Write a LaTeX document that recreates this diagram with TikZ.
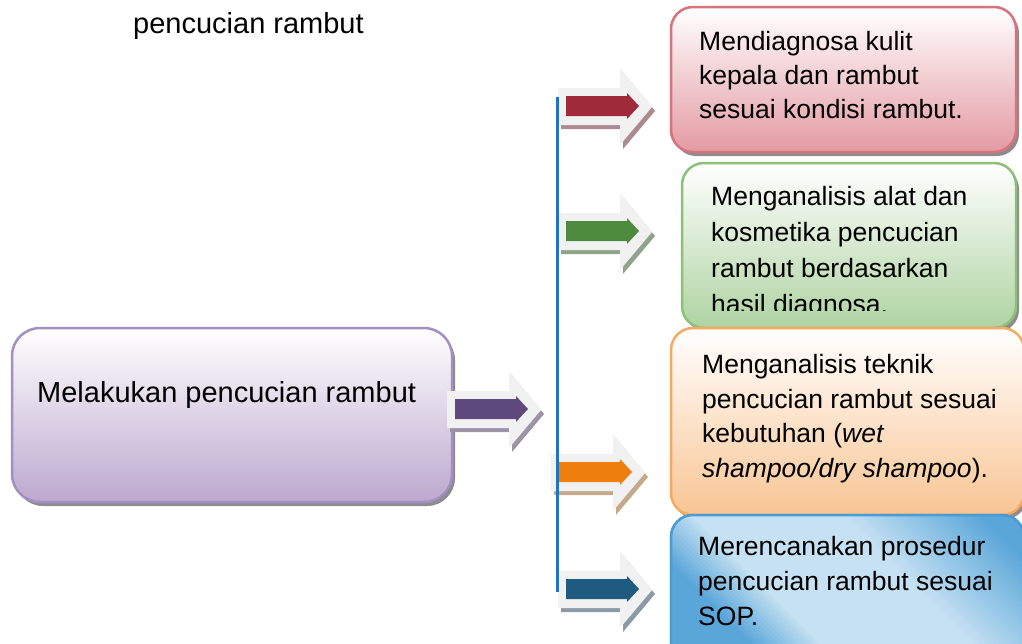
\documentclass[tikz,border=0pt]{standalone}
\usepackage{fontspec}
\setmainfont{Liberation Sans}
\usetikzlibrary{shadows}
\definecolor{arrowgray}{HTML}{F1F1F1}
\definecolor{vline}{HTML}{1F74C2}
\definecolor{purpbd}{HTML}{A48FC3}
\definecolor{purpfill}{HTML}{BCA8CE}
\definecolor{redbd}{HTML}{D8737E}
\definecolor{redfill}{HTML}{E39AA2}
\definecolor{grnbd}{HTML}{8CC079}
\definecolor{grnfill}{HTML}{AED3A1}
\definecolor{orgbd}{HTML}{F6A95F}
\definecolor{orgfill}{HTML}{F8C593}
\definecolor{blubd}{HTML}{4C9BD2}
\definecolor{bluout}{HTML}{5AA6D9}
\definecolor{bluin}{HTML}{C6E1F3}
\definecolor{arpurple}{HTML}{5F4A7E}
\definecolor{shpurple}{HTML}{9C93A6}
\definecolor{arred}{HTML}{9F2A3A}
\definecolor{shred}{HTML}{AC8A8F}
\definecolor{argreen}{HTML}{4D8A3D}
\definecolor{shgreen}{HTML}{8FA58A}
\definecolor{arorange}{HTML}{EE7F0F}
\definecolor{shorange}{HTML}{C5A98A}
\definecolor{arblue}{HTML}{1F5A80}
\definecolor{shblue}{HTML}{8C9AA6}
\tikzset{
  box/.style={draw=#1bd, line width=2.5pt, rounded corners=22pt, anchor=north west,
    inner sep=0pt, outer sep=0pt,
    general shadow={shadow xshift=3pt, shadow yshift=-4pt, fill=black!45}},
  txt/.style={anchor=base west, inner sep=0pt, align=left,
    font=\fontsize{26.5}{#1}\selectfont},
  txt/.default=34.5,
  pics/blockarrow/.style n args={2}{code={
    \fill[#2] (3,-15) -- (65,-15) -- (65,-35) -- (97,4) -- (65,42) -- (65,22) -- (3,22) -- cycle;
    \fill[arrowgray] (0,-19) -- (62,-19) -- (62,-39) -- (94,0) -- (62,38) -- (62,18) -- (0,18) -- cycle;
    \fill[#1] (8,-11) -- (69,-11) -- (69,-14) -- (81,-1) -- (69,12) -- (69,9) -- (8,9) -- cycle;
  }}
}
\begin{document}
\begin{tikzpicture}[x=1pt,y=-1pt]
\useasboundingbox (0,0) rectangle (1022,643);

% title
\node[anchor=base west, inner sep=0pt, font=\fontsize{29}{34}\selectfont] (title) at (133,33) {pencucian rambut};

% left box
\node[box=purp, rounded corners=28pt, minimum width=440pt, minimum height=174pt,
  top color=white, bottom color=purpfill] (main) at (12,328) {};
\node[anchor=base west, inner sep=0pt, font=\fontsize{29}{34}\selectfont] (maintxt) at (37,402) {Melakukan pencucian rambut};

% right boxes
\node[box=red, minimum width=345pt, minimum height=145pt,
  top color=white, bottom color=redfill] (b1) at (671,7) {};
\node[txt=34] (t1) at (699,118) {Mendiagnosa kulit\\kepala dan rambut\\sesuai kondisi rambut.};

\node[box=grn, minimum width=334pt, minimum height=165pt,
  top color=white, bottom color=grnfill] (b2) at (682,163) {};
\begin{scope}
  \clip (683,163) rectangle (1016,310);
  \node[txt=36] (t2) at (711,313) {Menganalisis alat dan\\kosmetika pencucian\\rambut berdasarkan\\hasil diagnosa.};
\end{scope}

\node[box=org, minimum width=353pt, minimum height=187pt,
  top color=white, bottom color=orgfill] (b3) at (671,328) {};
\node[txt=34.5] (t3) at (702,477) {Menganalisis teknik\\pencucian rambut sesuai\\kebutuhan (\textit{wet}\\\textit{shampoo/dry shampoo}).};

\node[box=blu, minimum width=353pt, minimum height=150pt, fill=bluout] (b4) at (671,515) {};
\begin{scope}
  \clip[rounded corners=22pt] (b4.north west) rectangle (b4.south east);
  \foreach \u in {520,525,...,1030} {
    \pgfmathtruncatemacro\p{max(0,min(100,min((\u-620)/0.7,(980-\u)/1.4)))}
    \fill[bluin!\p!bluout] (\u,515) -- (\u+6,515) -- (\u+156,665) -- (\u+150,665) -- cycle;
  }
\end{scope}
\draw[blubd, line width=2.5pt, rounded corners=22pt] (b4.north west) rectangle (b4.south east);
\node[txt=35] (t4) at (698,625) {Merencanakan prosedur\\pencucian rambut sesuai\\SOP.};

% arrows
\pic (a0) at (447,410) {blockarrow={arpurple}{shpurple}};
\pic (a1) at (558,107) {blockarrow={arred}{shred}};
\pic (a2) at (558,232) {blockarrow={argreen}{shgreen}};
\pic (a3) at (551,473) {blockarrow={arorange}{shorange}};
\pic (a4) at (558,590) {blockarrow={arblue}{shblue}};

% vertical line
\coordinate (ltop) at (557,97);
\coordinate (lbot) at (557,592);
\draw[vline, line width=3pt] (ltop) -- (lbot);
\end{tikzpicture}
\end{document}
